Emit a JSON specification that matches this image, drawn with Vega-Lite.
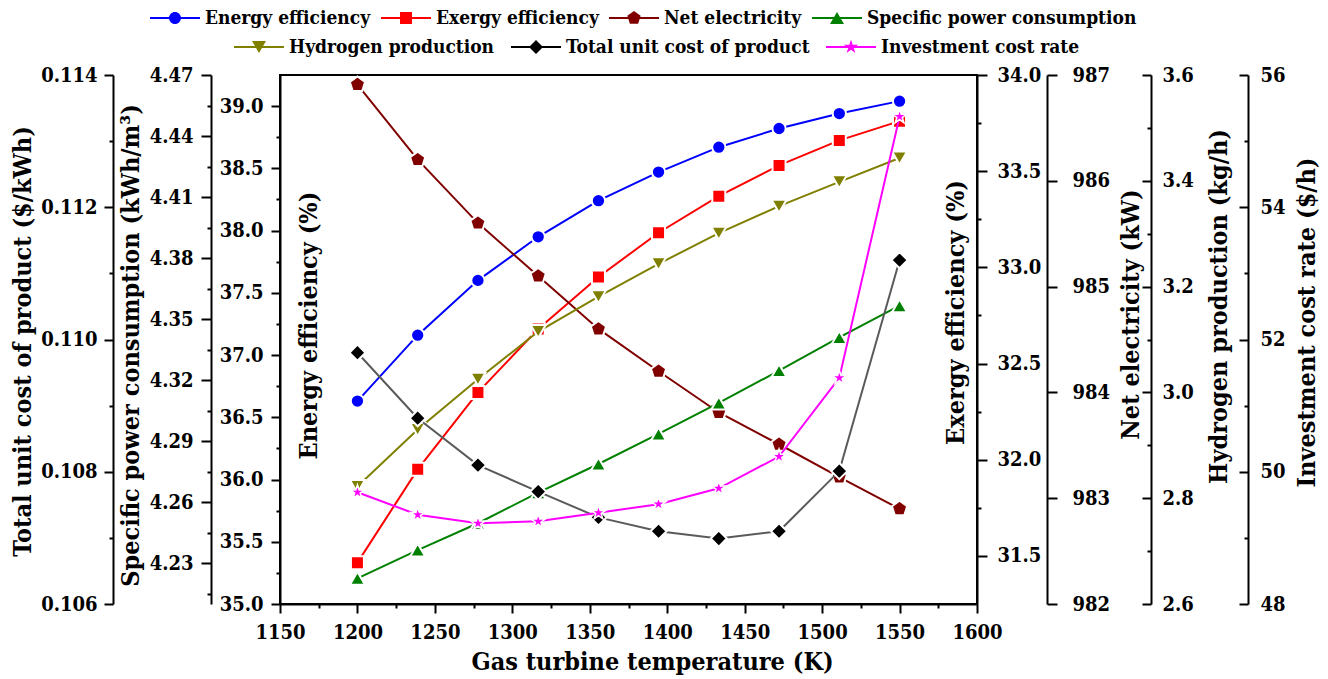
{
  "$schema": "https://vega.github.io/schema/vega-lite/v6.json",
  "width": 697,
  "height": 529,
  "autosize": "none",
  "padding": {"left": 280, "top": 75, "right": 351, "bottom": 75},
  "background": "white",
  "config": {
    "font": "DejaVu Serif Condensed, DejaVu Serif",
    "view": {"stroke": "black", "strokeWidth": 2},
    "axis": {
      "labelFont": "DejaVu Serif Condensed, DejaVu Serif", "labelFontWeight": "bold", "labelFontSize": 20, "labelColor": "black",
      "titleFont": "DejaVu Serif Condensed, DejaVu Serif", "titleFontWeight": "bold", "titleFontSize": 25, "titleColor": "black",
      "domainColor": "black", "domainWidth": 2, "tickColor": "black", "tickWidth": 2,
      "grid": false, "labelOverlap": false, "labelFlush": false
    }
  },
  "datasets": {
    "main": [
      {"T": 1200, "energy": 36.63, "exergy": 31.465, "net": 986.91, "spc": 4.2226, "h2": 2.822, "cost": 0.10980, "inv": 49.69},
      {"T": 1238.9, "energy": 37.16, "exergy": 31.95, "net": 986.20, "spc": 4.2365, "h2": 2.930, "cost": 0.10881, "inv": 49.35},
      {"T": 1277.8, "energy": 37.60, "exergy": 32.35, "net": 985.60, "spc": 4.2497, "h2": 3.025, "cost": 0.10810, "inv": 49.22},
      {"T": 1316.7, "energy": 37.95, "exergy": 32.68, "net": 985.10, "spc": 4.2647, "h2": 3.115, "cost": 0.10770, "inv": 49.25},
      {"T": 1355.6, "energy": 38.24, "exergy": 32.95, "net": 984.60, "spc": 4.2788, "h2": 3.181, "cost": 0.10731, "inv": 49.38},
      {"T": 1394.4, "energy": 38.47, "exergy": 33.18, "net": 984.20, "spc": 4.2936, "h2": 3.243, "cost": 0.10710, "inv": 49.51},
      {"T": 1433.3, "energy": 38.67, "exergy": 33.37, "net": 983.81, "spc": 4.3088, "h2": 3.301, "cost": 0.10699, "inv": 49.75},
      {"T": 1472.2, "energy": 38.82, "exergy": 33.53, "net": 983.51, "spc": 4.3247, "h2": 3.352, "cost": 0.10710, "inv": 50.23},
      {"T": 1511.1, "energy": 38.94, "exergy": 33.66, "net": 983.20, "spc": 4.3410, "h2": 3.398, "cost": 0.10801, "inv": 51.42},
      {"T": 1550, "energy": 39.04, "exergy": 33.76, "net": 982.90, "spc": 4.3566, "h2": 3.443, "cost": 0.11120, "inv": 55.37}
    ]
  },
  "data": {"name": "main"},
  "encoding": {
    "x": {
      "field": "T", "type": "quantitative", "title": "Gas turbine  temperature (K)",
      "scale": {"domain": [1150, 1600], "nice": false, "zero": false},
      "axis": {
        "values": [1150,1175,1200,1225,1250,1275,1300,1325,1350,1375,1400,1425,1450,1475,1500,1525,1550,1575,1600],
        "format": "d",
        "labelExpr": "datum.value % 50 === 0 ? datum.label : ''",
        "tickSize": {"condition": {"test": "datum.value % 50 === 0", "value": 9}, "value": 4},
        "labelPadding": 9,
        "titleX": 372, "titleY": 57, "titleBaseline": "middle", "titleAlign": "center"
      }
    }
  },
  "layer": [
    {
      "encoding": {"y": {"field": "energy", "type": "quantitative", "title": "Energy efficiency (%)",
        "scale": {"domain": [35, 39.25], "nice": false, "zero": false},
        "axis": {"orient": "left", "offset": 0,
          "values": [35,35.25,35.5,35.75,36,36.25,36.5,36.75,37,37.25,37.5,37.75,38,38.25,38.5,38.75,39],
          "format": ".1f",
          "labelExpr": "abs(datum.value*2-round(datum.value*2))<0.01 ? datum.label : ''",
          "tickSize": {"condition": {"test": "abs(datum.value*2-round(datum.value*2))<0.01", "value": 9}, "value": 4},
          "labelPadding": 8,
          "titleX": 28, "titleY": 250, "titleAngle": 270, "titleBaseline": "middle", "titleAlign": "center"}}},
      "layer": [
        {"mark": {"type": "line", "color": "#0000FF", "strokeWidth": 2}},
        {"mark": {"type": "point", "shape": "circle", "filled": true, "fill": "#0000FF", "stroke": "white", "strokeWidth": 2, "size": 177, "opacity": 1}}
      ]
    },
    {
      "encoding": {"y": {"field": "exergy", "type": "quantitative", "title": "Exergy efficiency (%)",
        "scale": {"domain": [31.25, 34], "nice": false, "zero": false},
        "axis": {"orient": "right", "offset": 0,
          "values": [31.5,31.75,32,32.25,32.5,32.75,33,33.25,33.5,33.75,34],
          "format": ".1f",
          "labelExpr": "abs(datum.value*2-round(datum.value*2))<0.01 ? datum.label : ''",
          "tickSize": {"condition": {"test": "abs(datum.value*2-round(datum.value*2))<0.01", "value": 10}, "value": 4},
          "labelPadding": 10,
          "titleX": -22, "titleY": 237, "titleAngle": 270, "titleBaseline": "middle", "titleAlign": "center"}}},
      "layer": [
        {"mark": {"type": "line", "color": "#FF0000", "strokeWidth": 2}},
        {"mark": {"type": "point", "shape": "square", "filled": true, "fill": "#FF0000", "stroke": "white", "strokeWidth": 2, "size": 169, "opacity": 1}}
      ]
    },
    {
      "encoding": {"y": {"field": "net", "type": "quantitative", "title": "Net electricity (kW)",
        "scale": {"domain": [982, 987], "nice": false, "zero": false},
        "axis": {"orient": "right", "offset": 70,
          "values": [982,982.5,983,983.5,984,984.5,985,985.5,986,986.5,987],
          "format": "d",
          "labelExpr": "abs(datum.value-round(datum.value))<0.01 ? datum.label : ''",
          "tickSize": {"condition": {"test": "abs(datum.value-round(datum.value))<0.01", "value": 10}, "value": 4},
          "labelPadding": 15,
          "titleX": 83, "titleY": 239, "titleAngle": 270, "titleBaseline": "middle", "titleAlign": "center"}}},
      "layer": [
        {"mark": {"type": "line", "color": "#800000", "strokeWidth": 2}},
        {"mark": {"type": "point", "shape": "M0,-1L0.951,-0.309L0.588,0.809L-0.588,0.809L-0.951,-0.309Z", "filled": true, "fill": "#800000", "stroke": "white", "strokeWidth": 2, "size": 256, "opacity": 1}}
      ]
    },
    {
      "encoding": {"y": {"field": "spc", "type": "quantitative", "title": "Specific power consumption (kWh/m³)",
        "scale": {"domain": [4.21, 4.47], "nice": false, "zero": false},
        "axis": {"orient": "left", "offset": 69,
          "values": [4.215,4.23,4.245,4.26,4.275,4.29,4.305,4.32,4.335,4.35,4.365,4.38,4.395,4.41,4.425,4.44,4.455,4.47],
          "format": ".2f",
          "labelExpr": "abs(datum.value/0.03-round(datum.value/0.03))<0.01 ? datum.label : ''",
          "tickSize": {"condition": {"test": "abs(datum.value/0.03-round(datum.value/0.03))<0.01", "value": 10}, "value": 4},
          "labelPadding": 8,
          "titleX": -81, "titleY": 270, "titleAngle": 270, "titleBaseline": "middle", "titleAlign": "center"}}},
      "layer": [
        {"mark": {"type": "line", "color": "#008000", "strokeWidth": 2}},
        {"mark": {"type": "point", "shape": "triangle-up", "filled": true, "fill": "#008000", "stroke": "white", "strokeWidth": 2, "size": 225, "opacity": 1}}
      ]
    },
    {
      "encoding": {"y": {"field": "h2", "type": "quantitative", "title": "Hydrogen production (kg/h)",
        "scale": {"domain": [2.6, 3.6], "nice": false, "zero": false},
        "axis": {"orient": "right", "offset": 174,
          "values": [2.6,2.7,2.8,2.9,3.0,3.1,3.2,3.3,3.4,3.5,3.6],
          "format": ".1f",
          "labelExpr": "abs(datum.value/0.2-round(datum.value/0.2))<0.01 ? datum.label : ''",
          "tickSize": {"condition": {"test": "abs(datum.value/0.2-round(datum.value/0.2))<0.01", "value": -9}, "value": -4},
          "labelPadding": 20,
          "titleX": 67, "titleY": 231, "titleAngle": 270, "titleBaseline": "middle", "titleAlign": "center"}}},
      "layer": [
        {"mark": {"type": "line", "color": "#808000", "strokeWidth": 2}},
        {"mark": {"type": "point", "shape": "triangle-down", "filled": true, "fill": "#808000", "stroke": "white", "strokeWidth": 2, "size": 225, "opacity": 1}}
      ]
    },
    {
      "encoding": {"y": {"field": "cost", "type": "quantitative", "title": "Total unit cost of product  ($/kWh)",
        "scale": {"domain": [0.106, 0.114], "nice": false, "zero": false},
        "axis": {"orient": "left", "offset": 167,
          "values": [0.106,0.107,0.108,0.109,0.11,0.111,0.112,0.113,0.114],
          "format": ".3f",
          "labelExpr": "abs(datum.value/0.002-round(datum.value/0.002))<0.01 ? datum.label : ''",
          "tickSize": {"condition": {"test": "abs(datum.value/0.002-round(datum.value/0.002))<0.01", "value": 9}, "value": 4},
          "labelPadding": 7,
          "titleX": -91, "titleY": 266, "titleAngle": 270, "titleBaseline": "middle", "titleAlign": "center"}}},
      "layer": [
        {"mark": {"type": "line", "color": "#5a5a5a", "strokeWidth": 2}},
        {"mark": {"type": "point", "shape": "diamond", "filled": true, "fill": "#000000", "stroke": "white", "strokeWidth": 2, "size": 260, "opacity": 1}}
      ]
    },
    {
      "encoding": {"y": {"field": "inv", "type": "quantitative", "title": "Investment cost rate ($/h)",
        "scale": {"domain": [48, 56], "nice": false, "zero": false},
        "axis": {"orient": "right", "offset": 271,
          "values": [48,49,50,51,52,53,54,55,56],
          "format": "d",
          "labelExpr": "datum.value % 2 === 0 ? datum.label : ''",
          "tickSize": {"condition": {"test": "datum.value % 2 === 0", "value": -9}, "value": -4},
          "labelPadding": 21,
          "titleX": 58, "titleY": 247, "titleAngle": 270, "titleBaseline": "middle", "titleAlign": "center"}}},
      "layer": [
        {"mark": {"type": "line", "color": "#FF00FF", "strokeWidth": 2}},
        {"mark": {"type": "point", "shape": "M0,-1L0.2245,-0.309L0.951,-0.309L0.3633,0.118L0.5878,0.809L0,0.382L-0.5878,0.809L-0.3633,0.118L-0.951,-0.309L-0.2245,-0.309Z", "filled": true, "fill": "#FF00FF", "stroke": "white", "strokeWidth": 1.5, "size": 225, "opacity": 1}}
      ]
    },
    {
      "data": {"values": [
        {"series": "Energy efficiency"}, {"series": "Exergy efficiency"}, {"series": "Net electricity"}, {"series": "Specific power consumption"}
      ]},
      "transform": [{"filter": "false"}],
      "mark": {"type": "point", "filled": true, "opacity": 1},
      "encoding": {
        "color": {"field": "series", "type": "nominal",
          "scale": {"domain": ["Energy efficiency", "Exergy efficiency", "Net electricity", "Specific power consumption"], "range": ["#0000FF", "#FF0000", "#800000", "#008000"]},
          "legend": {"title": null, "orient": "none", "legendX": -130, "legendY": -82, "direction": "horizontal", "symbolSize": 2500, "symbolStrokeWidth": 0, "labelFont": "DejaVu Serif Condensed, DejaVu Serif", "labelFontSize": 19, "labelFontWeight": "bold", "labelColor": "black", "labelOffset": 5, "labelLimit": 500, "columnPadding": 10, "padding": 0}},
        "shape": {"field": "series", "type": "nominal",
          "scale": {"domain": ["Energy efficiency", "Exergy efficiency", "Net electricity", "Specific power consumption"], "range": [
            "M-1,-0.04H1V0.04H-1Z M0.24,0A0.24,0.24 0 1,1 -0.24,0A0.24,0.24 0 1,1 0.24,0Z",
            "M-1,-0.04H1V0.04H-1Z M-0.24,-0.24H0.24V0.24H-0.24Z",
            "M-1,-0.04H1V0.04H-1Z M0,-0.28L0.266,-0.087L0.165,0.227L-0.165,0.227L-0.266,-0.087Z",
            "M-1,-0.04H1V0.04H-1Z M0,-0.2425L0.28,0.2425L-0.28,0.2425Z"
          ]},
          "legend": {"title": null, "orient": "none", "legendX": -130, "legendY": -82, "direction": "horizontal", "symbolSize": 2500, "symbolStrokeWidth": 0, "labelFont": "DejaVu Serif Condensed, DejaVu Serif", "labelFontSize": 19, "labelFontWeight": "bold", "labelColor": "black", "labelOffset": 5, "labelLimit": 500, "columnPadding": 10, "padding": 0}}
      }
    },
    {
      "data": {"values": [
        {"series": "Hydrogen production"}, {"series": "Total unit cost of product"}, {"series": "Investment cost rate"}
      ]},
      "transform": [{"filter": "false"}],
      "mark": {"type": "point", "filled": true, "opacity": 1},
      "encoding": {
        "color": {"field": "series", "type": "nominal",
          "scale": {"domain": ["Hydrogen production", "Total unit cost of product", "Investment cost rate"], "range": ["#808000", "#000000", "#FF00FF"]},
          "legend": {"title": null, "orient": "none", "legendX": -46, "legendY": -53, "direction": "horizontal", "symbolSize": 2500, "symbolStrokeWidth": 0, "labelFont": "DejaVu Serif Condensed, DejaVu Serif", "labelFontSize": 19, "labelFontWeight": "bold", "labelColor": "black", "labelOffset": 5, "labelLimit": 500, "columnPadding": 16, "padding": 0}},
        "shape": {"field": "series", "type": "nominal",
          "scale": {"domain": ["Hydrogen production", "Total unit cost of product", "Investment cost rate"], "range": [
            "M-1,-0.04H1V0.04H-1Z M0,0.2425L-0.28,-0.2425L0.28,-0.2425Z",
            "M-1,-0.04H1V0.04H-1Z M-0.28,0L0,-0.28L0.28,0L0,0.28Z",
            "M-1,-0.04H1V0.04H-1Z M0,-0.3L0.0674,-0.0927L0.2853,-0.0927L0.109,0.0354L0.1763,0.2427L0,0.1146L-0.1763,0.2427L-0.109,0.0354L-0.2853,-0.0927L-0.0674,-0.0927Z"
          ]},
          "legend": {"title": null, "orient": "none", "legendX": -46, "legendY": -53, "direction": "horizontal", "symbolSize": 2500, "symbolStrokeWidth": 0, "labelFont": "DejaVu Serif Condensed, DejaVu Serif", "labelFontSize": 19, "labelFontWeight": "bold", "labelColor": "black", "labelOffset": 5, "labelLimit": 500, "columnPadding": 16, "padding": 0}}
      }
    }
  ],
  "resolve": {"scale": {"y": "independent", "color": "independent", "shape": "independent"}}
}
